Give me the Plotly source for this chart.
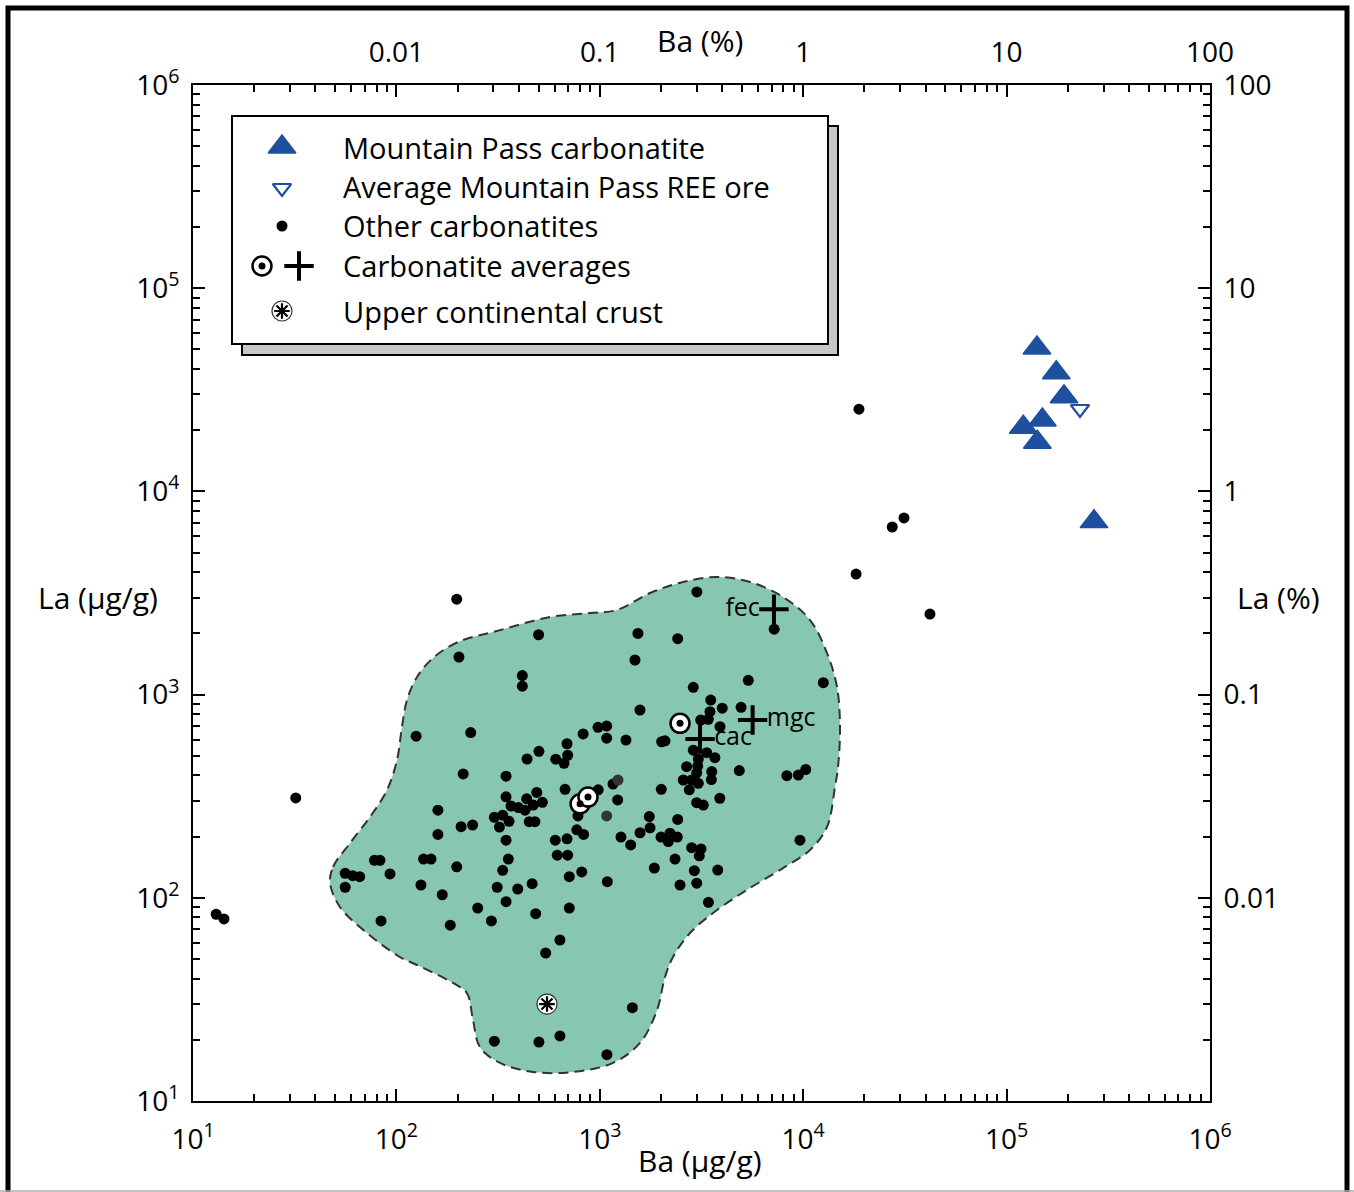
import plotly.graph_objects as go

FONT = "Open Sans"

# ---------------- data (µg/g) ----------------
mp_ba = [141000, 175500, 191500, 149900, 120800, 141600, 269000]
mp_la = [50800, 38400, 29240, 22460, 20690, 17450, 7100]

ore_ba = [229500]
ore_la = [25440]

other_ba = [198, 500, 203, 416, 416, 125, 232, 828, 980, 690, 502, 439, 607, 695, 667, 213, 346, 675, 346, 437, 490, 522,
            160, 366, 398, 429, 471, 303, 333, 358, 321, 450, 480, 208, 237, 160, 346, 604, 690, 771, 832, 78, 83, 136, 148,
            355, 618, 695, 56, 61, 66, 93, 198, 333, 815, 708, 56, 132, 168, 313, 395, 465, 346, 251, 708, 484, 293, 84, 184,
            637, 542,
            982, 1161, 1224, 781, 1089, 1751, 1766, 1577, 1271, 1419, 2000, 2213, 2172, 2404, 2415, 2006, 2343, 1854, 2830,
            3145, 3085, 2915, 3800, 2479, 2995, 3420, 3890, 2995, 3228, 9640,
            3000, 7200, 1540, 2415, 1489, 5370, 12560, 2882, 1576, 3510, 4000, 4950, 3480, 3134, 3415, 3900, 2015, 2092,
            1345, 1081, 1081, 2882, 3355, 3680, 3050, 2672, 3030, 3550, 3535, 2995, 2573, 2830, 3050, 2754, 4850, 8310,
            9460, 10290,
            303, 502, 637, 1084, 1446,
            18800, 27400, 31300, 18200, 42000, 32, 13, 14.2]
other_la = [2950, 1970, 1530, 1240, 1100, 624, 650, 640, 690, 573, 526, 482, 481, 503, 459, 407, 397, 342, 314, 307, 330, 295,
            270, 283, 278, 270, 286, 249, 255, 238, 223, 237, 237, 224, 228, 205, 192, 192, 195, 216, 205, 153, 153, 155, 155,
            155, 162, 162, 132, 128.5, 127, 131, 142, 136.5, 134, 127, 112.7, 115.6, 103.5, 112.7, 110.5, 117.4, 95.7, 89,
            89, 83.5, 76.9, 76.9, 73.3, 62, 53.5,
            340, 363, 303, 253, 120, 251, 221, 209, 199, 182, 199, 208, 189, 199, 243, 342, 155, 140, 176.5,
            174, 161, 136, 137, 115.6, 118, 95, 309, 294, 286, 192,
            3200, 2100, 2000, 1884, 1480, 1175, 1144, 1086, 840, 940, 857, 866, 824, 750, 756, 695, 586, 592,
            597, 700, 610, 533, 518, 489, 482, 442, 445, 418, 382, 412, 380, 380, 366, 340, 423, 399,
            402, 428,
            19.7, 19.5, 20.9, 16.9, 28.8,
            25400, 6680, 7400, 3920, 2490, 310, 83, 78.7]

faint_ba = [1229, 1081]
faint_la = [380, 253]

avg_circ_ba = [800, 875, 2480]
avg_circ_la = [290, 313, 722]

avg_plus_ba = [7180, 5640, 3110]
avg_plus_la = [2630, 750, 605]
avg_plus_lbl = ["fec", "mgc", "cac"]
avg_plus_pos = ["middle left", "middle right", "middle right"]

ucc_ba = [550]
ucc_la = [30]

field_ba = [47.2, 48.8, 59.2, 74.2, 89.9, 100.7, 106.5, 112.7, 126.3, 151.4, 200.9, 312, 569, 895, 1215, 1766, 2565,
            3770, 5474, 7955, 10800, 13090, 14660, 15170, 14830, 14330, 13090, 10800, 7955, 5474, 3770, 2777, 2290,
            2092, 1911, 1576, 1161, 738, 469.5, 323, 257.6, 238, 222, 189.8, 126.3, 104.2, 71.7, 52.8, 47.2]
field_la = [118.2, 141.8, 186, 250, 339, 477, 693, 940, 1221, 1514, 1815, 2056, 2409, 2521, 2608, 3162, 3583,
            3791, 3583, 3022, 2328, 1602, 1090, 693, 440, 351, 223, 172, 140, 111.7, 87.1, 67.1, 51.1,
            40.7, 28.0, 19.3, 15.4, 13.9, 13.9, 15.4, 18.4, 25.0, 34.0, 38.1, 46.7, 51.1, 67.1, 90.1, 118.2]

major = [10, 100, 1000, 10000, 100000, 1000000]
major_lbl = ["10<sup>1</sup>", "10<sup>2</sup>", "10<sup>3</sup>", "10<sup>4</sup>", "10<sup>5</sup>", "10<sup>6</sup>"]
pct_major = [0.001, 0.01, 0.1, 1, 10, 100]
pct_lbl = ["", "0.01", "0.1", "1", "10", "100"]

legend_rows = ["Mountain Pass carbonatite", "Average Mountain Pass REE ore", "Other carbonatites",
               "Carbonatite averages", "Upper continental crust"]

BLUE = "#1f509f"
GREEN = "#88c7af"

minor_ug = [m * 10 ** k for k in range(1, 6) for m in range(2, 10)]
minor_pct = [m * 10.0 ** k for k in range(-3, 2) for m in range(2, 10)]

fig = go.Figure()

# field
fig.add_trace(go.Scatter(x=field_ba, y=field_la, mode="lines", fill="toself", fillcolor=GREEN,
                         line=dict(color="#333333", width=2, dash="10px,6px", shape="spline", smoothing=1.0),
                         hoverinfo="skip", showlegend=False))
# other carbonatites
fig.add_trace(go.Scatter(x=other_ba, y=other_la, mode="markers",
                         marker=dict(symbol="circle", size=11, color="black"), showlegend=False))
fig.add_trace(go.Scatter(x=faint_ba, y=faint_la, mode="markers",
                         marker=dict(symbol="circle", size=11, color="#333333"), showlegend=False))
# carbonatite averages (circles)
fig.add_trace(go.Scatter(x=avg_circ_ba, y=avg_circ_la, mode="markers",
                         marker=dict(symbol="circle", size=19, color="white", line=dict(color="black", width=2.5)),
                         showlegend=False))
fig.add_trace(go.Scatter(x=avg_circ_ba, y=avg_circ_la, mode="markers",
                         marker=dict(symbol="circle", size=7, color="black"), showlegend=False))
# carbonatite averages (plus)
fig.add_trace(go.Scatter(x=avg_plus_ba, y=avg_plus_la, mode="markers+text", text=avg_plus_lbl,
                         textposition=avg_plus_pos, textfont=dict(family=FONT, size=25, color="black"),
                         marker=dict(symbol="cross-thin-open", size=21, color="black",
                                     line=dict(color="black", width=4)),
                         showlegend=False))
# UCC
fig.add_trace(go.Scatter(x=ucc_ba, y=ucc_la, mode="markers",
                         marker=dict(symbol="circle", size=20, color="white", line=dict(color="#333333", width=1.2)),
                         showlegend=False))
fig.add_trace(go.Scatter(x=ucc_ba, y=ucc_la, mode="markers",
                         marker=dict(symbol="asterisk-open", size=13, color="black",
                                     line=dict(color="black", width=2.2)),
                         showlegend=False))
# Mountain Pass
fig.add_trace(go.Scatter(x=mp_ba, y=mp_la, mode="markers",
                         marker=dict(symbol="triangle-up", size=24, color=BLUE, line=dict(color=BLUE, width=1.5)),
                         showlegend=False))
# average ore plotted against the percent axes (same position)
fig.add_trace(go.Scatter(x=[v / 1e4 for v in ore_ba], y=[v / 1e4 for v in ore_la], mode="markers",
                         xaxis="x2", yaxis="y2",
                         marker=dict(symbol="triangle-down", size=16, color="white", line=dict(color=BLUE, width=2.2)),
                         showlegend=False))

# ---------- custom legend glyphs (hidden unit axes = plot area) ----------
def px(xp):
    return (xp - 193) / 1017.0

def py(yp):
    return (1101 - yp) / 1016.0

row_y = [147, 186, 226, 265, 311]
fig.add_trace(go.Scatter(x=[px(282)], y=[py(row_y[0])], xaxis="x3", yaxis="y3", mode="markers",
                         marker=dict(symbol="triangle-up", size=24, color=BLUE, line=dict(color=BLUE, width=1.5)),
                         showlegend=False))
fig.add_trace(go.Scatter(x=[px(282)], y=[py(row_y[1] + 2)], xaxis="x3", yaxis="y3", mode="markers",
                         marker=dict(symbol="triangle-down", size=16, color="white", line=dict(color=BLUE, width=2.2)),
                         showlegend=False))
fig.add_trace(go.Scatter(x=[px(282)], y=[py(row_y[2])], xaxis="x3", yaxis="y3", mode="markers",
                         marker=dict(symbol="circle", size=11, color="black"), showlegend=False))
fig.add_trace(go.Scatter(x=[px(262)], y=[py(row_y[3] + 1)], xaxis="x3", yaxis="y3", mode="markers",
                         marker=dict(symbol="circle", size=19, color="white", line=dict(color="black", width=2.5)),
                         showlegend=False))
fig.add_trace(go.Scatter(x=[px(262)], y=[py(row_y[3] + 1)], xaxis="x3", yaxis="y3", mode="markers",
                         marker=dict(symbol="circle", size=7, color="black"), showlegend=False))
fig.add_trace(go.Scatter(x=[px(299)], y=[py(row_y[3] + 1)], xaxis="x3", yaxis="y3", mode="markers",
                         marker=dict(symbol="cross-thin-open", size=21, color="black",
                                     line=dict(color="black", width=4)),
                         showlegend=False))
fig.add_trace(go.Scatter(x=[px(282)], y=[py(row_y[4])], xaxis="x3", yaxis="y3", mode="markers",
                         marker=dict(symbol="circle", size=20, color="white", line=dict(color="#333333", width=1.2)),
                         showlegend=False))
fig.add_trace(go.Scatter(x=[px(282)], y=[py(row_y[4])], xaxis="x3", yaxis="y3", mode="markers",
                         marker=dict(symbol="asterisk-open", size=13, color="black",
                                     line=dict(color="black", width=2.2)),
                         showlegend=False))

annotations = []
for txt, yy in zip(legend_rows, row_y):
    annotations.append(dict(text=txt, xref="paper", yref="paper", x=px(341), y=py(yy), xanchor="left",
                            yanchor="middle", showarrow=False, font=dict(family=FONT, size=29, color="black")))

# axis titles
TF = dict(family=FONT, size=30, color="black")
annotations += [
    dict(text="Ba (µg/g)", xref="paper", yref="paper", x=px(700), y=py(1160), xanchor="center", yanchor="middle",
         showarrow=False, font=TF),
    dict(text="Ba (%)", xref="paper", yref="paper", x=px(700), y=py(40), xanchor="center", yanchor="middle",
         showarrow=False, font=TF),
    dict(text="La (µg/g)", xref="paper", yref="paper", x=px(98), y=py(597), xanchor="center", yanchor="middle",
         showarrow=False, font=TF),
    dict(text="La (%)", xref="paper", yref="paper", x=px(1278), y=py(597), xanchor="center", yanchor="middle",
         showarrow=False, font=TF),
]

shapes = [
    # legend shadow and box
    dict(type="rect", xref="paper", yref="paper", x0=px(242), x1=px(838), y0=py(355), y1=py(126),
         fillcolor="#c8c8c8", line=dict(color="black", width=2), layer="below"),
    dict(type="rect", xref="paper", yref="paper", x0=px(232), x1=px(828), y0=py(344), y1=py(116),
         fillcolor="white", line=dict(color="black", width=2), layer="below"),
    # outer frame
    dict(type="rect", xref="paper", yref="paper", x0=px(8), x1=px(1347), y0=py(1198), y1=py(8),
         line=dict(color="black", width=5), layer="above"),
    dict(type="line", xref="paper", yref="paper", x0=px(0), x1=px(1354), y0=py(1191), y1=py(1191),
         line=dict(color="#b0b0b0", width=1.5), layer="above"),
]

tickfont = dict(family=FONT, size=28, color="black")
common = dict(type="log", showgrid=False, zeroline=False, showline=True, linecolor="black", linewidth=2,
              ticks="inside", ticklen=12, tickwidth=2, tickcolor="black", tickfont=tickfont, tickmode="array")

fig.update_layout(
    width=1354, height=1192,
    margin=dict(l=193, r=144, t=85, b=91),
    paper_bgcolor="white", plot_bgcolor="white",
    showlegend=False,
    font=dict(family=FONT, color="black"),
    xaxis=dict(range=[1, 6], tickvals=major, ticktext=major_lbl, side="bottom", anchor="y",
               ticklabelstandoff=12,
               minor=dict(tickmode="array", tickvals=minor_ug, ticks="inside", ticklen=7, tickwidth=1.5,
                          tickcolor="black"), **common),
    yaxis=dict(range=[1, 6], tickvals=major, ticktext=major_lbl, side="left", anchor="x",
               ticklabelstandoff=6,
               minor=dict(tickmode="array", tickvals=minor_ug, ticks="inside", ticklen=7, tickwidth=1.5,
                          tickcolor="black"), **common),
    xaxis2=dict(range=[-3, 2], tickvals=pct_major, ticktext=pct_lbl, side="top", overlaying="x", anchor="y",
                ticklabelstandoff=10,
                minor=dict(tickmode="array", tickvals=minor_pct, ticks="inside", ticklen=7, tickwidth=1.5,
                           tickcolor="black"), **common),
    yaxis2=dict(range=[-3, 2], tickvals=pct_major, ticktext=pct_lbl, side="right", overlaying="y", anchor="x",
                ticklabelstandoff=6,
                minor=dict(tickmode="array", tickvals=minor_pct, ticks="inside", ticklen=7, tickwidth=1.5,
                           tickcolor="black"), **common),
    xaxis3=dict(range=[0, 1], overlaying="x", anchor="y3", visible=False, fixedrange=True),
    yaxis3=dict(range=[0, 1], overlaying="y", anchor="x3", visible=False, fixedrange=True),
    annotations=annotations,
    shapes=shapes,
)

fig.write_html("out.html")
